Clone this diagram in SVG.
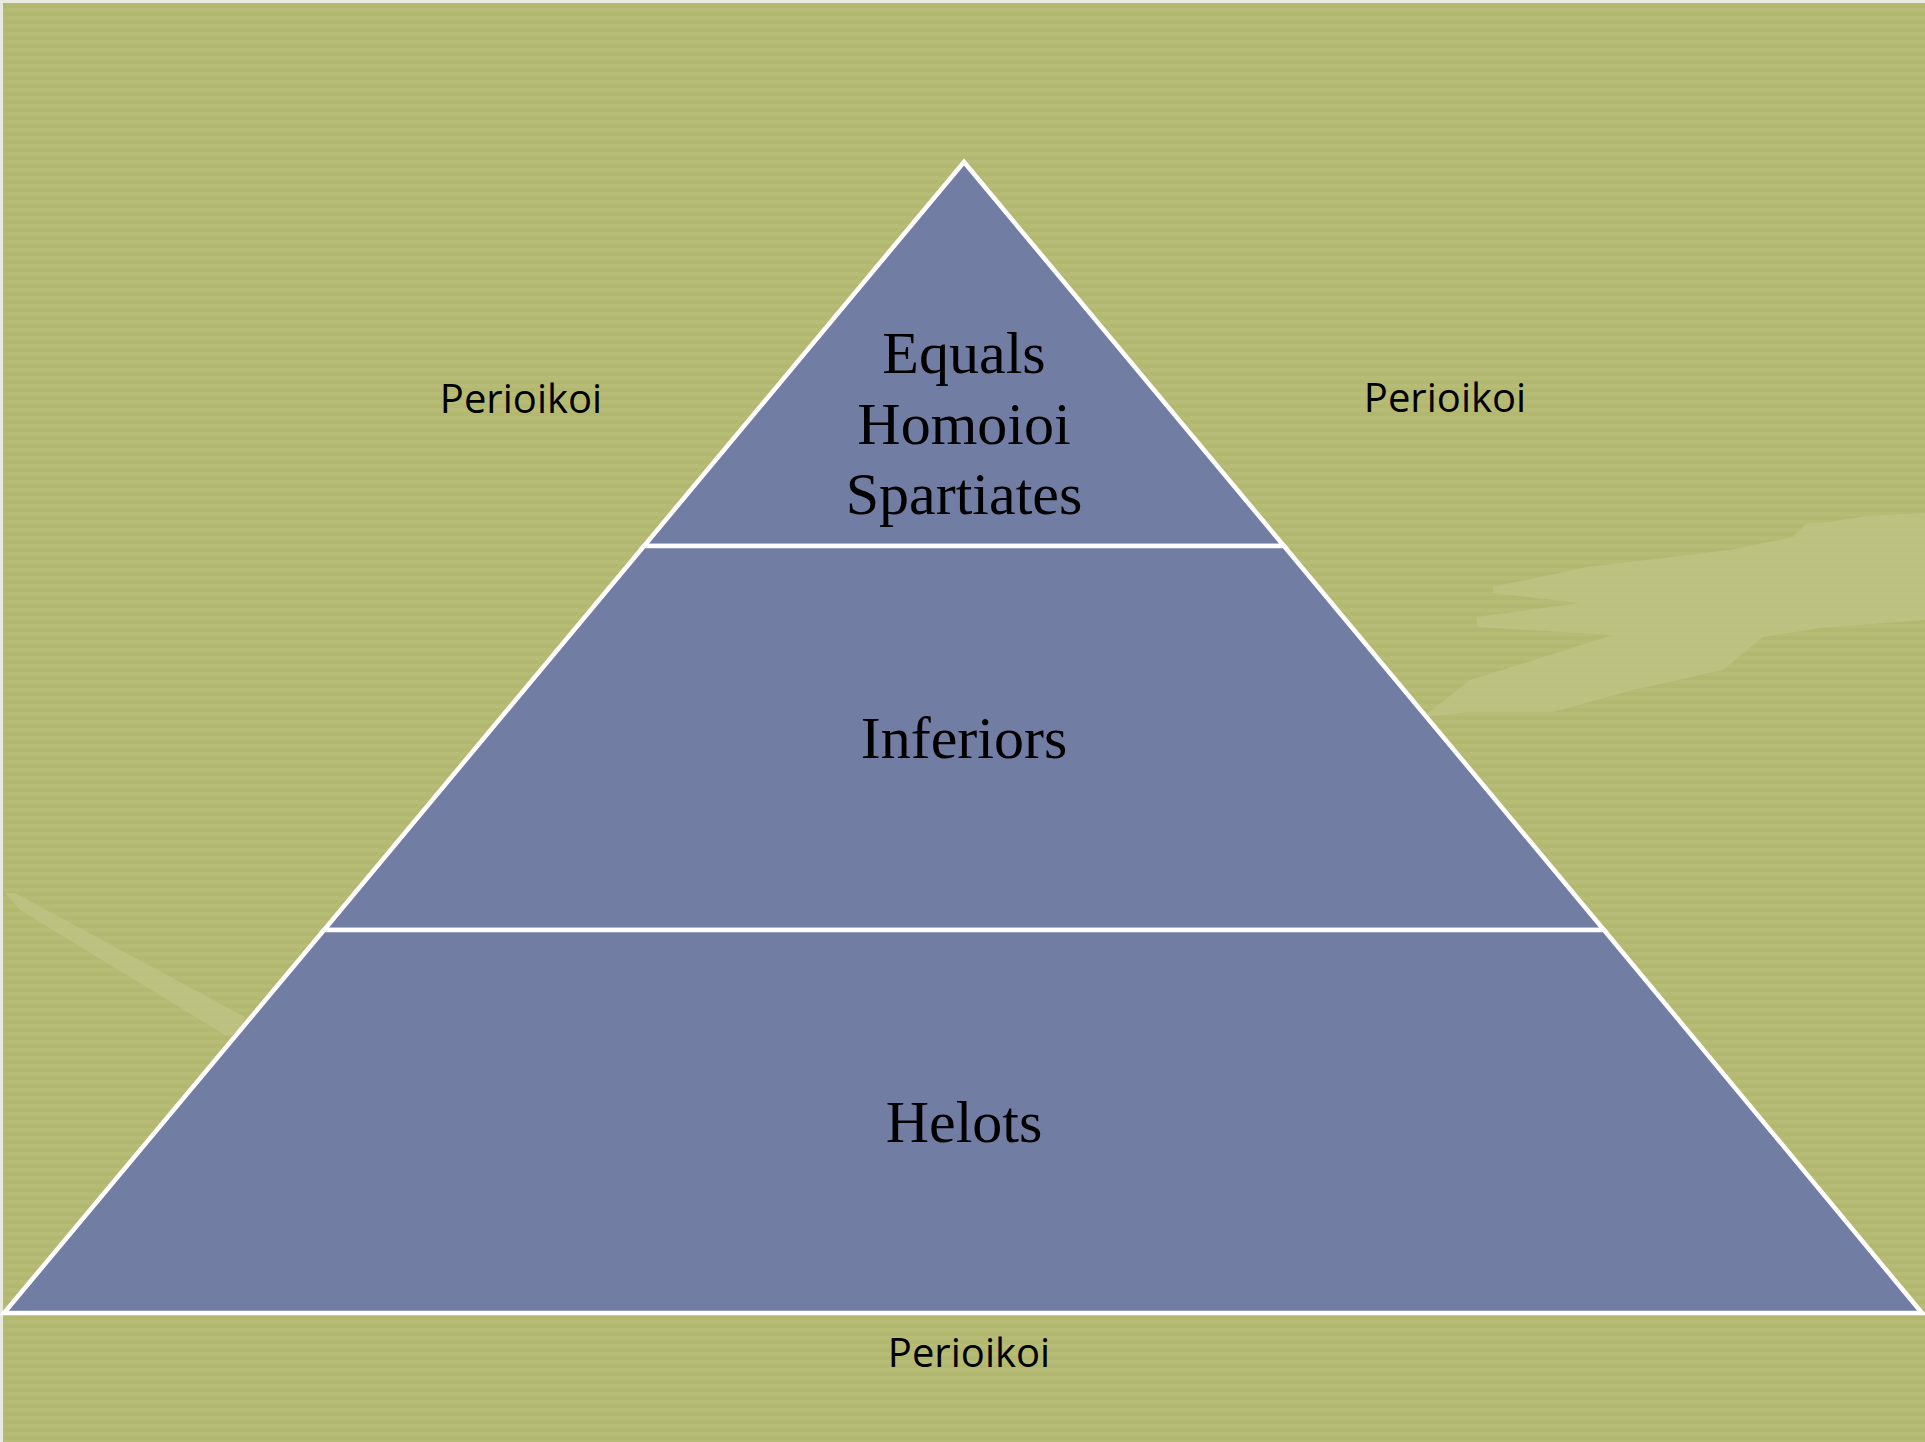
<svg xmlns="http://www.w3.org/2000/svg" width="1925" height="1442" viewBox="0 0 1925 1442">
<defs>
<pattern id="stripes" width="8" height="8" patternUnits="userSpaceOnUse">
<rect width="8" height="4" fill="#ffffff" opacity="0.035"/>
</pattern>
<style>
.level{fill:#727da3;stroke:#ffffff;stroke-width:4.5;stroke-linejoin:miter}
.lbl{font-family:"Liberation Serif","Times New Roman",serif;font-size:60px;fill:#000;text-anchor:middle}
.peri{font-family:"Open Sans","Liberation Sans",sans-serif;font-size:40px;fill:#000;text-anchor:middle}
.streak{fill:#c2c68a;opacity:0.6}
</style>
</defs>
<g id="background">
<rect width="1925" height="1442" fill="#b3b870"/>
<rect width="1925" height="1442" fill="url(#stripes)"/>
<polygon class="streak" points="1925,513 1866,516 1829,522 1807,523 1793,537 1730,550 1587,567 1493,587 1493,593 1580,603 1477,617 1477,627 1613,635 1470,680 1423,717 1470,712 1553,712 1633,690 1723,670 1763,637 1820,628 1925,620"/>
<polygon class="streak" points="5,893 15,893 245,1017 240,1035 225,1035 20,910"/>
<rect x="0" y="0" width="1925" height="3" fill="#e9eadf"/>
<rect x="0" y="0" width="3" height="1442" fill="#e9eadf"/>
</g>
<g id="connectors"></g>
<g id="node-equals">
<polygon class="level" points="964,162 1284,546 644,546"/>
<text class="lbl" x="964" y="373">Equals</text>
<text class="lbl" x="964" y="444">Homoioi</text>
<text class="lbl" x="964" y="514">Spartiates</text>
</g>
<g id="node-inferiors">
<polygon class="level" points="644,546 1284,546 1604,930 324,930"/>
<text class="lbl" x="964" y="758">Inferiors</text>
</g>
<g id="node-helots">
<polygon class="level" points="324,930 1604,930 1922,1313 4,1313"/>
<text class="lbl" x="964" y="1142">Helots</text>
</g>
<g id="node-perioikoi-left"><text class="peri" x="521" y="413">Perioikoi</text></g>
<g id="node-perioikoi-right"><text class="peri" x="1445" y="412">Perioikoi</text></g>
<g id="node-perioikoi-bottom"><text class="peri" x="969" y="1367">Perioikoi</text></g>
</svg>
